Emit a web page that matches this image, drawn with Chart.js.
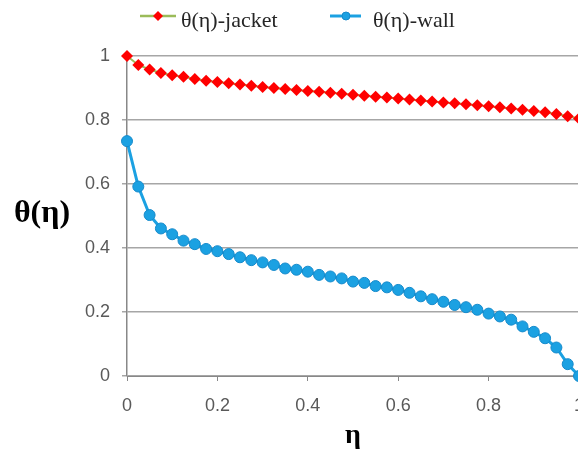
<!DOCTYPE html>
<html>
<head>
<meta charset="utf-8">
<script src="https://cdn.jsdelivr.net/npm/chart.js@4.4.1/dist/chart.umd.min.js"></script>
<style>
  html, body { margin: 0; padding: 0; background: #fff; overflow: hidden; }
  #wrap { width: 600px; height: 453px; }
</style>
</head>
<body>
<div id="wrap"><canvas id="c" width="600" height="453"></canvas></div>
<script>
const etaValues = [0, 0.025, 0.05, 0.075, 0.1, 0.125, 0.15, 0.175, 0.2, 0.225,
  0.25, 0.275, 0.3, 0.325, 0.35, 0.375, 0.4, 0.425, 0.45, 0.475,
  0.5, 0.525, 0.55, 0.575, 0.6, 0.625, 0.65, 0.675, 0.7, 0.725,
  0.75, 0.775, 0.8, 0.825, 0.85, 0.875, 0.9, 0.925, 0.95, 0.975, 1];

const thetaJacket = [1.000, 0.972, 0.958, 0.947, 0.940, 0.935, 0.928, 0.923, 0.919, 0.915,
  0.911, 0.907, 0.903, 0.900, 0.897, 0.894, 0.891, 0.888, 0.885, 0.882,
  0.879, 0.876, 0.873, 0.870, 0.867, 0.864, 0.861, 0.858, 0.855, 0.852,
  0.849, 0.846, 0.843, 0.840, 0.836, 0.832, 0.828, 0.824, 0.819, 0.812, 0.805];

const thetaWall = [0.734, 0.592, 0.503, 0.461, 0.443, 0.423, 0.412, 0.397, 0.390, 0.381,
  0.371, 0.362, 0.355, 0.347, 0.336, 0.332, 0.326, 0.316, 0.311, 0.305,
  0.295, 0.291, 0.281, 0.277, 0.269, 0.260, 0.249, 0.240, 0.232, 0.222,
  0.215, 0.207, 0.195, 0.186, 0.176, 0.155, 0.138, 0.118, 0.089, 0.037, 0.000];

const seriesNames = ['θ(η)-jacket', 'θ(η)-wall'];
const xTitle = 'η';
const yTitle = 'θ(η)';
const yTicks = [0, 0.2, 0.4, 0.6, 0.8, 1];
const xTicks = [0, 0.2, 0.4, 0.6, 0.8, 1];

const JACKET_LINE = '#9BBB59';
const JACKET_MARK = '#FF0000';
const WALL_COLOR = '#1BA1E2';
const WALL_BORDER = '#168ACB';

const toXY = (ys) => etaValues.map((x, i) => ({ x: x, y: ys[i] }));

const customLegendAndTitle = {
  id: 'customLegendAndTitle',
  afterDraw(chart) {
    const ctx = chart.ctx;
    ctx.save();
    const ly = 16;
    ctx.strokeStyle = JACKET_LINE;
    ctx.lineWidth = 2.5;
    ctx.beginPath(); ctx.moveTo(140, ly); ctx.lineTo(176, ly); ctx.stroke();
    ctx.fillStyle = JACKET_MARK;
    ctx.beginPath();
    ctx.moveTo(158, ly - 5); ctx.lineTo(163, ly); ctx.lineTo(158, ly + 5); ctx.lineTo(153, ly);
    ctx.closePath(); ctx.fill();
    ctx.strokeStyle = WALL_COLOR;
    ctx.lineWidth = 3;
    ctx.beginPath(); ctx.moveTo(330, ly); ctx.lineTo(361, ly); ctx.stroke();
    ctx.fillStyle = WALL_COLOR;
    ctx.strokeStyle = WALL_BORDER;
    ctx.lineWidth = 1;
    ctx.beginPath(); ctx.arc(346, ly, 4, 0, Math.PI * 2); ctx.fill(); ctx.stroke();
    ctx.fillStyle = '#262626';
    ctx.font = '22px "Liberation Serif"';
    ctx.textAlign = 'left';
    ctx.textBaseline = 'alphabetic';
    ctx.fillText(seriesNames[0], 181, 27);
    ctx.fillText(seriesNames[1], 373, 27);
    ctx.fillStyle = '#000000';
    ctx.font = 'bold 32px "Liberation Serif"';
    ctx.textAlign = 'center';
    ctx.textBaseline = 'middle';
    ctx.fillText(yTitle, 42, 214);
    ctx.restore();
  }
};

new Chart(document.getElementById('c'), {
  type: 'line',
  data: {
    datasets: [
      {
        label: seriesNames[0],
        data: toXY(thetaJacket),
        borderColor: JACKET_LINE,
        borderWidth: 2,
        pointStyle: 'rectRot',
        pointRadius: 6,
        pointBackgroundColor: JACKET_MARK,
        pointBorderColor: JACKET_MARK,
        pointBorderWidth: 0,
        tension: 0,
        clip: false
      },
      {
        label: seriesNames[1],
        data: toXY(thetaWall),
        borderColor: WALL_COLOR,
        borderWidth: 3,
        pointStyle: 'circle',
        pointRadius: 5.5,
        pointBackgroundColor: WALL_COLOR,
        pointBorderColor: WALL_BORDER,
        pointBorderWidth: 1,
        tension: 0,
        clip: false
      }
    ]
  },
  options: {
    responsive: false,
    animation: false,
    devicePixelRatio: 1,
    layout: { padding: { top: 56, right: 21, bottom: 0, left: 0 } },
    plugins: {
      legend: { display: false },
      tooltip: { enabled: false }
    },
    scales: {
      x: {
        type: 'linear',
        min: 0, max: 1,
        afterBuildTicks: (s) => { s.ticks = xTicks.map(v => ({ value: v })); },
        afterFit: (s) => { s.height = 77; },
        ticks: {
          callback: (v) => String(+v.toFixed(1)),
          color: '#595959',
          font: { family: '"Liberation Sans"', size: 18 },
          padding: 14,
          maxRotation: 0
        },
        grid: { drawOnChartArea: false, drawTicks: true, tickLength: 5, color: '#888888' },
        border: { display: true, color: '#888888', width: 1 },
        title: {
          display: true,
          text: xTitle,
          color: '#000000',
          font: { family: '"Liberation Serif"', size: 28, weight: 'bold' },
          padding: { top: 0, bottom: 0 }
        }
      },
      y: {
        type: 'linear',
        min: 0, max: 1,
        afterBuildTicks: (s) => { s.ticks = yTicks.map(v => ({ value: v })); },
        afterFit: (s) => { s.width = 127; },
        ticks: {
          callback: (v) => String(+v.toFixed(1)),
          color: '#595959',
          font: { family: '"Liberation Sans"', size: 18 },
          padding: 12
        },
        grid: { color: '#A6A6A6', lineWidth: 1.5, tickLength: 5 },
        border: { display: true, color: '#888888', width: 1.5 }
      }
    }
  },
  plugins: [customLegendAndTitle]
});
</script>
</body>
</html>
